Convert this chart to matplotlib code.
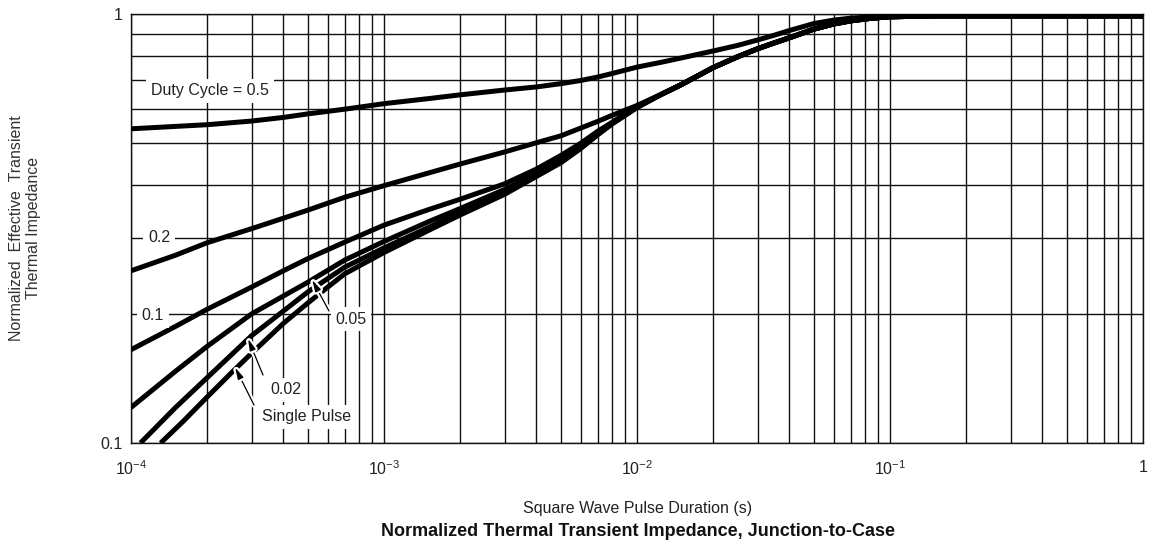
import numpy as np
import matplotlib
matplotlib.use("Agg")
import matplotlib.pyplot as plt
import matplotlib.patheffects as pe
from matplotlib.ticker import LogLocator, NullFormatter, FixedLocator, FixedFormatter

plt.rcParams['font.family'] = ['Liberation Sans', 'DejaVu Sans']
plt.rcParams['mathtext.fontset'] = 'custom'
plt.rcParams['mathtext.rm'] = 'Liberation Sans'
plt.rcParams['mathtext.it'] = 'Liberation Sans'
plt.rcParams['axes.unicode_minus'] = False

# Pulse duration (s) and normalized Zth
t_d05 = [1e-4, 1.5e-4, 2e-4, 3e-4, 4e-4, 5e-4, 7e-4, 1e-3, 1.5e-3, 2e-3, 3e-3, 4e-3,
         5e-3, 6e-3, 7e-3, 8e-3, 1e-2, 1.25e-2, 1.5e-2, 2e-2, 2.5e-2, 3e-2, 3.5e-2,
         4e-2, 5e-2, 6e-2, 7e-2, 8.5e-2, 1e-1, 1.5e-1, 1]
z_d05 = [0.54, 0.547, 0.552, 0.563, 0.574, 0.585, 0.60, 0.618, 0.635, 0.648, 0.665, 0.676,
         0.688, 0.70, 0.713, 0.727, 0.752, 0.772, 0.79, 0.82, 0.845, 0.87, 0.893,
         0.915, 0.95, 0.968, 0.978, 0.985, 0.988, 0.99, 0.99]

# shared tail of the lower curves once they merge (> 1e-2 s)
t_tail = [1.25e-2, 1.5e-2, 2e-2, 2.5e-2, 3e-2, 3.5e-2, 4e-2, 5e-2, 6e-2, 7e-2,
          8.5e-2, 1e-1, 1.5e-1, 1]
z_tail = [0.65, 0.685, 0.75, 0.795, 0.83, 0.857, 0.88, 0.922, 0.948, 0.964,
          0.978, 0.985, 0.99, 0.99]

t_d02 = [1e-4, 1.5e-4, 2e-4, 3e-4, 5e-4, 7e-4, 1e-3, 1.5e-3, 2e-3, 3e-3, 4e-3, 5e-3,
         7e-3, 8e-3, 1e-2]
z_d02 = [0.252, 0.274, 0.293, 0.316, 0.349, 0.374, 0.398, 0.426, 0.447, 0.477, 0.501, 0.52,
         0.562, 0.581, 0.612]

t_d01 = [1e-4, 1.5e-4, 2e-4, 3e-4, 4e-4, 5e-4, 7e-4, 1e-3, 1.5e-3, 2e-3, 3e-3, 4e-3,
         5e-3, 6e-3, 7e-3, 8e-3, 1e-2]
z_d01 = [0.165, 0.187, 0.205, 0.231, 0.252, 0.269, 0.294, 0.322, 0.35, 0.37, 0.402, 0.435,
         0.468, 0.50, 0.533, 0.56, 0.61]

t_d005 = [1e-4, 1.5e-4, 2e-4, 3e-4, 5e-4, 7e-4, 1e-3, 1.5e-3, 2e-3, 3e-3, 4e-3, 5e-3,
          6e-3, 7e-3, 8e-3, 1e-2]
z_d005 = [0.121, 0.147, 0.168, 0.20, 0.237, 0.267, 0.295, 0.328, 0.352, 0.39, 0.425, 0.458,
          0.492, 0.527, 0.557, 0.608]

t_d002 = [1.09e-4, 1.5e-4, 2e-4, 3e-4, 4e-4, 5e-4, 7e-4, 1e-3, 1.5e-3, 2e-3, 3e-3, 4e-3,
          5e-3, 6e-3, 7e-3, 8e-3, 1e-2]
z_d002 = [0.1, 0.121, 0.142, 0.178, 0.203, 0.225, 0.257, 0.285, 0.318, 0.345, 0.383, 0.42,
          0.452, 0.488, 0.525, 0.556, 0.606]

t_single = [1.31e-4, 1.6e-4, 2e-4, 2.5e-4, 3e-4, 4e-4, 5e-4, 6e-4, 7e-4, 1e-3, 1.5e-3,
            2e-3, 3e-3, 4e-3, 5e-3, 6e-3, 7e-3, 8e-3, 1e-2]
z_single = [0.1, 0.112, 0.128, 0.146, 0.162, 0.19, 0.212, 0.231, 0.248, 0.278, 0.313,
            0.34, 0.38, 0.418, 0.45, 0.486, 0.523, 0.555, 0.605]

x_ticks = [1e-4, 1e-3, 1e-2, 1e-1, 1]
x_ticklabels = ['$10^{-4}$', '$10^{-3}$', '$10^{-2}$', '$10^{-1}$', '1']

W, H = 1157, 547
fig = plt.figure(figsize=(W / 100, H / 100), dpi=100)
ax = fig.add_axes([131 / W, 1 - 443 / H, 1012 / W, 429 / H])
ax.set_xscale('log')
ax.set_yscale('log')
ax.set_xlim(1e-4, 1)
ax.set_ylim(0.1, 1)

curve_kw = dict(color='black', lw=3.6, solid_capstyle='butt', solid_joinstyle='round', zorder=3)
ax.plot(t_d05, z_d05, **curve_kw)
ax.plot(t_d02 + t_tail, z_d02 + z_tail, **curve_kw)
ax.plot(t_d01 + t_tail, z_d01 + z_tail, **curve_kw)
ax.plot(t_d005 + t_tail, z_d005 + z_tail, **curve_kw)
ax.plot(t_d002 + t_tail, z_d002 + z_tail, **curve_kw)
ax.plot(t_single + t_tail, z_single + z_tail, **curve_kw)

# grid on every decade subdivision
ax.xaxis.set_major_locator(FixedLocator(x_ticks))
ax.xaxis.set_major_formatter(FixedFormatter(x_ticklabels))
ax.xaxis.set_minor_locator(LogLocator(base=10, subs=np.arange(2, 10)))
ax.xaxis.set_minor_formatter(NullFormatter())
ax.yaxis.set_major_locator(FixedLocator([0.1, 1]))
ax.yaxis.set_major_formatter(FixedFormatter(['0.1', '1']))
ax.yaxis.set_minor_locator(LogLocator(base=10, subs=np.arange(2, 10)))
ax.yaxis.set_minor_formatter(NullFormatter())
ax.grid(which='both', color='#111111', lw=1.0)
ax.set_axisbelow(True)
ax.tick_params(which='both', length=0, labelsize=11.5, colors='#222222')
ax.tick_params(axis='x', pad=12)
ax.tick_params(axis='y', pad=6)
for s in ax.spines.values():
    s.set_color('#111111')
    s.set_linewidth(1.0)


def ax_xy(px, py):
    return ((px - 131) / 1012, (443 - py) / 429)


box = dict(boxstyle='square,pad=0.3', fc='white', ec='none')
labels = [("Duty Cycle = 0.5", 210, 91), ("0.2", 159, 238), ("0.1", 153, 316),
          ("0.05", 351, 319), ("0.02", 286, 390), ("Single Pulse", 307, 417)]
for txt, px, py in labels:
    ax.text(*ax_xy(px, py), txt, transform=ax.transAxes, ha='center', va='center',
            fontsize=11.5, color='#222222', bbox=box, zorder=5)

arrow_kw = dict(arrowstyle='-|>,head_length=0.7,head_width=0.18', color='black', lw=0.9,
                shrinkA=0, shrinkB=0,
                path_effects=[pe.withStroke(linewidth=4, foreground='white')])
arrows = [((5.2e-4, 0.24), (329, 311)), ((2.9e-4, 0.175), (263, 375)),
          ((2.58e-4, 0.15), (254, 405))]
for tip, (px, py) in arrows:
    ax.annotate('', xy=tip, xytext=ax_xy(px, py), textcoords='axes fraction',
                arrowprops=arrow_kw, zorder=6)

fig.text(25 / W, 1 - 228 / H, "Normalized  Effective  Transient\nThermal Impedance",
         rotation=90, ha='center', va='center', fontsize=11.5, color='#333333',
         linespacing=1.1)
fig.text(638 / W, 1 - 508 / H, "Square Wave Pulse Duration (s)", ha='center', va='center',
         fontsize=11.5, color='#222222')
fig.text(638 / W, 1 - 531 / H, "Normalized Thermal Transient Impedance, Junction-to-Case",
         ha='center', va='center', fontsize=13, fontweight='bold', color='#111111')

fig.savefig("out.png", dpi=100)
